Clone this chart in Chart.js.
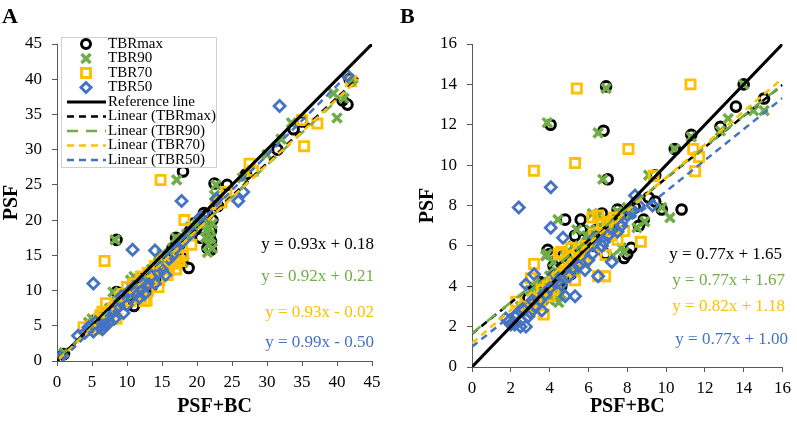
<!DOCTYPE html>
<html>
<head>
<meta charset="utf-8">
<script src="https://cdn.jsdelivr.net/npm/chart.js@4/dist/chart.umd.min.js"></script>
<style>
  body { margin: 0; background: #fff; }
  canvas { position: absolute; top: 0; }
  #chartA { left: 0; }
  #chartB { left: 398px; }
</style>
</head>
<body>
<canvas id="chartA" width="398" height="423"></canvas>
<canvas id="chartB" width="399" height="423"></canvas>
<script>
// ---- panel A data (PSF+BC, PSF) ----
const tbrMaxA = [[1,1],[4.5,4.5],[5,5.2],[5.5,5.8],[6,5],[6.5,6],[7,6.5],[7.5,7],[8,7.5],[8.5,9.8],[9,8.5],[9.5,9],[9.8,9.2],[10,8],[10.5,9.5],[11,7.8],[11.5,10],[12,11],[12.5,11.8],[13,9.8],[13.5,10.5],[14,11.5],[14.5,13.8],[15,13.8],[15.5,14.2],[16,14.8],[16.5,16],[17,17.5],[17.5,16.5],[18,14.5],[18.8,13.2],[8.5,17.2],[18,26.9],[19,18.5],[19.5,19.5],[20,19],[20.5,17.5],[21,21],[21.5,20.8],[21.5,16],[21.8,17.5],[22,15.8],[22,17],[22,18.5],[22.2,20],[23,22],[22.5,25.2],[24.3,25],[27,26.5],[31.5,30],[33.8,32.9],[35,34],[41.5,36.4],[41.8,40],[40.8,37]];
const tbr90A = [[1,1.2],[4.5,5.5],[5,6],[5.5,5.5],[6,5],[6.5,6.5],[7,7],[7.5,7.5],[8,9.8],[8.3,17.2],[8.5,8.5],[9,8],[9.5,9],[10,9.5],[10.5,11.5],[11,12],[11.5,11],[12,10],[12.5,11.5],[13,12.5],[13.5,13],[14,13],[14.5,14],[15,15.2],[16,14.5],[16.5,16],[17,17.5],[17.1,25.7],[17.5,16.8],[18,14],[18.5,18],[19,19],[19.5,19],[20,19.5],[20.5,20],[21,20],[21.2,17.5],[21.3,18.5],[21.5,15.4],[21.7,16.5],[21.8,18.8],[22,17.5],[22.2,19.5],[22.2,16],[22.5,23.5],[22.7,25],[26.5,26],[30,29.3],[32,31.5],[33.5,33.8],[39.5,38],[40,34.5],[41,37.3],[42,39.8]];
const tbr70A = [[3.8,4.8],[5,5],[5.5,4.5],[6,6],[6.2,6.5],[6.5,7],[6.8,14.2],[7,8.2],[7.5,6.5],[8,7.5],[8.5,6],[8.5,8],[9,9],[9.5,9.5],[10,10.5],[10.5,8.5],[10.8,10],[11,11],[11.5,10.5],[12,9],[12.5,8.5],[12.8,8.6],[12,12],[12.5,11.5],[13,12.5],[13,10],[13.5,11.5],[13.8,12],[14,13.5],[14.2,12.8],[14.5,10.5],[14.6,11.5],[14.8,25.7],[15,14.5],[15.2,13.5],[15.5,14.5],[15.8,12.2],[16,13],[16.2,14],[16.5,14],[16.8,13.8],[17,13],[17.3,14.8],[17.5,14.2],[18,15],[18.2,20],[19.2,16.5],[22.7,22.3],[23.5,22.5],[24.2,24],[27.5,28],[28,27],[35,34.2],[35.3,30.5],[37.2,33.7],[42,39.7]];
const tbr50A = [[0.5,0.5],[3,3.6],[4,4],[4.5,4.8],[5,5],[5.2,4.2],[5.2,11],[5.5,5.5],[6,5],[6.2,4.8],[6.5,4.5],[6.8,5.2],[7,6],[7.2,6.5],[7.5,5.5],[8,7],[8.2,6],[8.5,7.5],[8.8,7.8],[9,8.5],[9.2,9.2],[9.5,6.8],[10,8],[10.2,9.8],[10.5,9],[10.8,15.8],[11,10.5],[11.2,9.5],[11.8,9],[12,10.2],[12.2,11.2],[12.5,9.5],[13,11],[13.5,12],[14,15.7],[14,11],[14.5,12.5],[15,13],[15.5,12.2],[16,14.5],[16.5,15],[17,16],[17.8,22.7],[18,17],[19,18],[20.5,20.4],[22.8,23],[25.9,22.7],[26.6,24],[31.8,36.2],[41.5,40.5]];
const refLineA = [[0,0],[45,45]];
const fitMaxA = [[0.3,0.46],[43,40.17]];
const fit90A = [[0.3,0.49],[43,39.77]];
const fit70A = [[0.3,0.26],[43,39.97]];
const fit50A = [[0.8,0.29],[42,41.08]];
const eqA = ['y = 0.93x + 0.18', 'y = 0.92x + 0.21', 'y = 0.93x - 0.02', 'y = 0.99x - 0.50'];
const ticksA = { min: 0, max: 45, step: 5 };

// ---- panel B data ----
const tbrMaxB = [[2.9,3.4],[3.5,4.2],[3.9,5.8],[4.0,5.6],[4.05,12.0],[4.2,5.0],[4.3,4.9],[4.4,4.5],[4.5,4.2],[4.6,4.0],[4.7,5.5],[4.8,7.3],[5.0,5.2],[5.1,4.6],[5.3,6.5],[5.5,5.4],[5.6,7.3],[5.65,6.8],[5.8,5.9],[6.0,6.3],[6.2,6.0],[6.4,6.8],[6.5,6.5],[6.7,7.6],[6.78,11.7],[6.88,5.6],[6.91,13.9],[6.99,9.3],[7.0,7.0],[7.2,6.8],[7.3,7.2],[7.5,7.8],[7.7,7.6],[7.84,5.4],[8.0,5.6],[8.2,5.9],[8.4,7.9],[8.6,7.0],[8.85,7.3],[9.1,8.4],[9.44,8.2],[9.44,9.5],[9.78,7.8],[10.45,10.8],[10.8,7.8],[11.3,11.5],[12.8,11.9],[13.6,12.9],[14.0,14.0],[15.05,13.3]];
const tbr90B = [[2.5,3.0],[3.0,3.8],[3.2,3.5],[3.3,4.0],[3.45,3.7],[3.5,3.6],[3.6,4.2],[3.7,3.4],[3.8,5.5],[3.88,5.6],[3.88,12.1],[3.9,4.0],[4.0,4.5],[4.0,3.3],[4.1,4.4],[4.2,3.6],[4.2,5.2],[4.3,3.9],[4.4,4.1],[4.4,3.5],[4.43,7.3],[4.47,3.2],[4.6,4.8],[4.6,3.6],[4.7,4.4],[4.8,5.5],[4.9,5.0],[5.0,4.6],[5.1,5.3],[5.2,6.0],[5.3,4.8],[5.4,6.8],[5.5,5.3],[5.6,5.8],[5.7,5.6],[5.8,6.0],[5.9,6.5],[6.0,6.2],[6.1,6.8],[6.2,7.6],[6.3,6.0],[6.5,7.5],[6.5,11.6],[6.6,7.0],[6.74,9.3],[6.8,6.5],[6.9,6.9],[6.91,13.8],[7.0,7.0],[7.2,7.3],[7.25,5.5],[7.5,7.7],[7.6,7.3],[7.7,5.9],[7.84,5.7],[8.0,7.9],[8.2,7.6],[8.5,6.9],[8.9,7.2],[9.1,9.5],[9.78,7.9],[10.2,7.4],[10.45,10.8],[11.3,11.4],[12.8,11.7],[13.2,12.3],[14.0,14.0],[14.5,12.7],[15.05,12.7]];
const tbr70B = [[2.28,3.23],[2.8,3.0],[3.0,2.8],[3.04,4.4],[3.12,2.96],[3.19,9.72],[3.2,5.1],[3.3,3.4],[3.5,3.2],[3.6,3.8],[3.7,2.6],[3.9,4.0],[4.0,3.5],[4.2,3.8],[4.3,4.2],[4.4,4.6],[4.47,5.6],[4.6,5.7],[4.8,5.2],[5.0,4.8],[5.1,5.9],[5.2,5.5],[5.31,4.3],[5.31,10.1],[5.4,13.8],[5.5,5.8],[5.6,5.4],[5.8,5.2],[5.9,6.0],[6.2,7.4],[6.3,6.6],[6.5,4.5],[6.5,7.5],[6.6,6.0],[6.7,7.1],[6.86,4.5],[6.88,5.55],[6.9,6.5],[7.0,7.2],[7.2,6.5],[7.3,7.4],[7.5,6.3],[7.84,6.74],[8.06,10.8],[8.7,6.2],[9.36,9.47],[11.26,14.0],[11.4,10.8],[11.5,9.7],[11.7,10.4]];
const tbr50B = [[1.74,2.4],[1.94,2.3],[2.0,2.1],[2.2,2.1],[2.2,2.5],[2.3,2.6],[2.41,7.9],[2.5,2.3],[2.5,2.0],[2.6,2.9],[2.78,2.0],[2.78,4.1],[2.9,2.5],[3.0,2.7],[3.1,3.3],[3.2,4.6],[3.3,3.0],[3.5,3.3],[3.6,2.8],[3.8,3.6],[4.0,3.9],[4.06,8.9],[4.06,6.9],[4.2,4.6],[4.4,4.2],[4.6,4.1],[4.69,6.4],[4.8,3.5],[5.0,4.5],[5.2,4.9],[5.31,3.5],[5.5,5.0],[5.82,4.8],[6.0,5.3],[6.2,5.6],[6.3,6.4],[6.5,4.5],[6.7,6.0],[6.8,6.2],[7.0,6.5],[7.2,5.2],[7.5,6.7],[7.7,7.0],[8.0,7.5],[8.2,7.7],[8.4,8.5],[8.6,8.0],[9.3,8.0]];
const refLineB = [[0,0],[16,16]];
const fitMaxB = [[0,1.65],[16,13.97]];
const fit90B = [[0,1.67],[16,13.99]];
const fit70B = [[0,1.18],[16,14.3]];
const fit50B = [[0,1.0],[16,13.32]];
const eqB = ['y = 0.77x + 1.65', 'y = 0.77x + 1.67', 'y = 0.82x + 1.18', 'y = 0.77x + 1.00'];
const ticksB = { min: 0, max: 16, step: 2 };

const seriesNames = ['TBRmax', 'TBR90', 'TBR70', 'TBR50'];
const colors = ['#000000', '#70AD47', '#FFC000', '#4472C4'];
const FONT = "'Liberation Serif', 'Times New Roman', serif";

function pts(arr) { return arr.map(p => ({ x: p[0], y: p[1] })); }

function scatterSet(i, data) {
  const styles = ['circle', 'crossRot', 'rect', 'rectRot'];
  const radii = [4.8, 6.5, 6.5, 5.5];
  const widths = [3, 3.5, 2.8, 2.8];
  return {
    label: seriesNames[i],
    data: pts(data),
    pointStyle: styles[i],
    pointRadius: radii[i],
    pointHoverRadius: radii[i],
    pointBorderWidth: widths[i],
    pointBorderColor: colors[i],
    pointBackgroundColor: 'rgba(0,0,0,0)',
    showLine: false,
    order: 10 - i
  };
}

function lineSet(label, data, color, dash, width, order) {
  return {
    label: label,
    data: pts(data),
    showLine: true,
    borderColor: color,
    borderWidth: width,
    borderDash: dash,
    pointRadius: 0,
    pointHoverRadius: 0,
    fill: false,
    order: order
  };
}

// draws a single marker for the legend
function marker(ctx, i, x, y) {
  ctx.save();
  ctx.strokeStyle = colors[i];
  ctx.lineWidth = i === 1 ? 3.5 : 3;
  ctx.beginPath();
  if (i === 0) {
    ctx.arc(x, y, 4.5, 0, Math.PI * 2);
  } else if (i === 1) {
    ctx.moveTo(x - 4.5, y - 4.5); ctx.lineTo(x + 4.5, y + 4.5);
    ctx.moveTo(x + 4.5, y - 4.5); ctx.lineTo(x - 4.5, y + 4.5);
  } else if (i === 2) {
    ctx.rect(x - 4.5, y - 4.5, 9, 9);
  } else {
    ctx.moveTo(x, y - 5); ctx.lineTo(x + 5, y); ctx.lineTo(x, y + 5); ctx.lineTo(x - 5, y); ctx.closePath();
  }
  ctx.stroke();
  ctx.restore();
}

const annotPlugin = {
  id: 'annot',
  afterDraw(chart, args, opts) {
    const ctx = chart.ctx;
    ctx.save();
    // panel letter
    ctx.fillStyle = '#000';
    ctx.font = "bold 22px " + FONT;
    ctx.textAlign = 'left';
    ctx.textBaseline = 'alphabetic';
    ctx.fillText(opts.letter, 2, 23);
    // equations
    ctx.font = "17px " + FONT;
    ctx.textAlign = 'right';
    ctx.textBaseline = 'middle';
    opts.eqs.forEach((t, i) => {
      ctx.fillStyle = colors[i];
      ctx.fillText(t, opts.eqX[i], opts.eqY[i]);
    });
    // legend box
    if (opts.legend) {
      const L = opts.legend;
      ctx.fillStyle = '#fff';
      ctx.fillRect(L.x, L.y, L.w, L.h);
      ctx.strokeStyle = '#d0d0d0';
      ctx.lineWidth = 1;
      ctx.strokeRect(L.x + 0.5, L.y + 0.5, L.w, L.h);
      ctx.font = "15px " + FONT;
      ctx.textAlign = 'left';
      ctx.textBaseline = 'middle';
      const rowH = 14.5;
      const labels = seriesNames.concat(['Reference line', 'Linear (TBRmax)', 'Linear (TBR90)', 'Linear (TBR70)', 'Linear (TBR50)']);
      labels.forEach((t, r) => {
        const yy = L.y + 7 + r * rowH;
        if (r < 4) {
          marker(ctx, r, L.x + 25, yy);
        } else {
          ctx.save();
          const c = r === 4 ? 0 : r - 5;
          ctx.strokeStyle = colors[c];
          ctx.lineWidth = r === 4 ? 3 : 2.5;
          ctx.setLineDash(r === 4 ? [] : (c === 1 ? [11, 8] : [7, 5]));
          ctx.beginPath();
          ctx.moveTo(L.x + 6, yy);
          ctx.lineTo(L.x + 45, yy);
          ctx.stroke();
          ctx.restore();
        }
        ctx.fillStyle = '#000';
        ctx.fillText(t, L.x + 47, yy);
      });
    }
    ctx.restore();
  }
};

function makeChart(id, d, t, pad, axisW, axisH, yTitlePad, annot) {
  const datasets = [
    scatterSet(0, d.s[0]), scatterSet(1, d.s[1]), scatterSet(2, d.s[2]), scatterSet(3, d.s[3]),
    lineSet('Reference line', d.ref, '#000', [], 3, 5),
    lineSet('Linear (TBRmax)', d.fit[0], colors[0], [7, 5], 2.5, 4),
    lineSet('Linear (TBR90)', d.fit[1], colors[1], [11, 8], 2.5, 3),
    lineSet('Linear (TBR70)', d.fit[2], colors[2], [7, 5], 2.5, 2),
    lineSet('Linear (TBR50)', d.fit[3], colors[3], [7, 5], 2.5, 1)
  ];
  return new Chart(document.getElementById(id), {
    type: 'scatter',
    data: { datasets: datasets },
    plugins: [annotPlugin],
    options: {
      responsive: false,
      animation: false,
      layout: { padding: pad },
      plugins: {
        legend: { display: false },
        tooltip: { enabled: false },
        annot: annot
      },
      scales: {
        x: {
          type: 'linear',
          min: t.min, max: t.max,
          ticks: { stepSize: t.step, color: '#000', font: { family: FONT, size: 17 }, padding: 6, maxRotation: 0 },
          grid: { drawOnChartArea: false, drawTicks: true, tickLength: 5, color: '#595959' },
          border: { display: true, color: '#595959', width: 1 },
          title: { display: true, text: 'PSF+BC', color: '#000', font: { family: FONT, size: 20, weight: 'bold' }, padding: { top: 0, bottom: 4 } },
          afterFit: s => { s.height = axisH; }
        },
        y: {
          type: 'linear',
          min: t.min, max: t.max,
          ticks: { stepSize: t.step, color: '#000', font: { family: FONT, size: 17 }, padding: 10 },
          grid: { drawOnChartArea: false, drawTicks: true, tickLength: 5, color: '#595959' },
          border: { display: true, color: '#595959', width: 1 },
          title: { display: true, text: 'PSF', color: '#000', font: { family: FONT, size: 20, weight: 'bold' }, padding: { top: yTitlePad, bottom: 0 } },
          afterFit: s => { s.width = axisW; }
        }
      }
    }
  });
}

makeChart('chartA',
  { s: [tbrMaxA, tbr90A, tbr70A, tbr50A], ref: refLineA, fit: [fitMaxA, fit90A, fit70A, fit50A] },
  ticksA, { top: 44, right: 26, left: 0, bottom: 0 }, 57, 62, 0,
  { letter: 'A', eqs: eqA, eqX: [374, 374, 374, 374], eqY: [245, 277, 313, 343],
    legend: { x: 61, y: 37, w: 155, h: 130 } });

makeChart('chartB',
  { s: [tbrMaxB, tbr90B, tbr70B, tbr50B], ref: refLineB, fit: [fitMaxB, fit90B, fit70B, fit50B] },
  ticksB, { top: 44, right: 9, left: 0, bottom: 0 }, 74, 56, 18,
  { letter: 'B', eqs: eqB, eqX: [384, 387, 387, 390], eqY: [255, 281, 307, 340], legend: null });
</script>
</body>
</html>
